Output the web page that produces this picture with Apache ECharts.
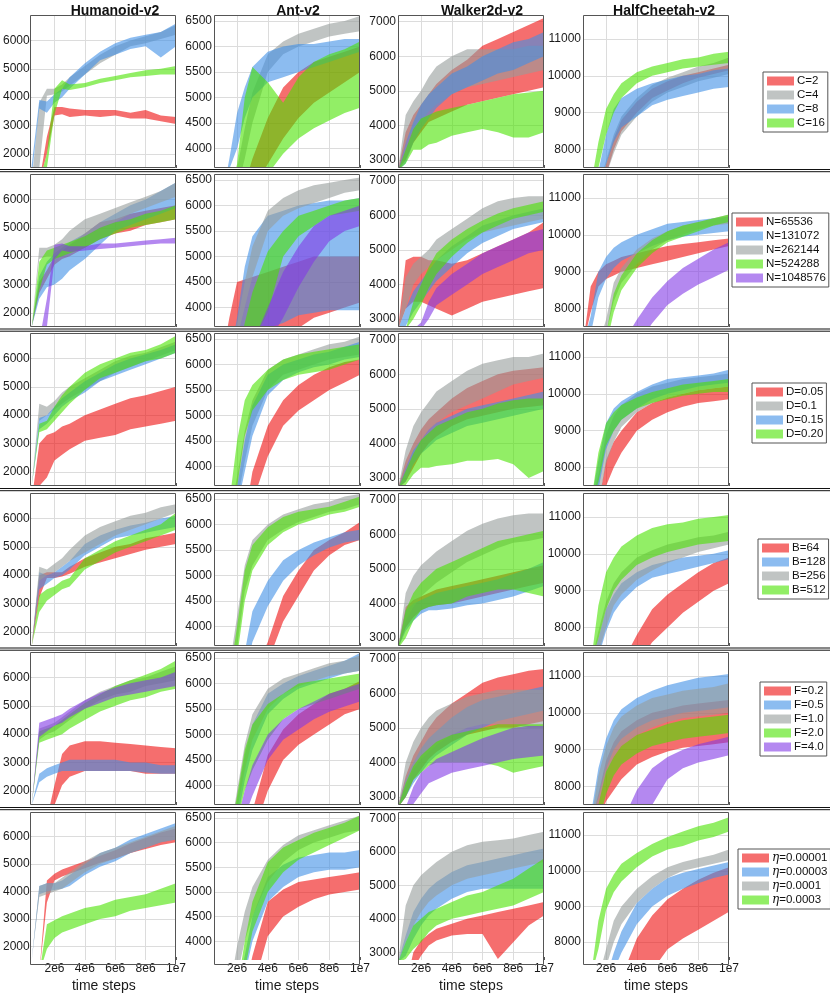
<!DOCTYPE html>
<html>
<head>
<meta charset="utf-8">
<title>PPO hyper-parameter sweep</title>
<script src="https://cdn.jsdelivr.net/npm/echarts/dist/echarts.min.js"></script>
<style>
  html, body { margin: 0; padding: 0; background: #fff; }
  #chart { width: 830px; height: 994px; }
</style>
</head>
<body>
<div id="chart"></div>
<script>
// time steps at which the bands are sampled
const STEPS = [5e5, 1e6, 1.5e6, 2e6, 2.5e6, 3e6, 4e6, 5e6, 6e6, 7e6, 8e6, 9e6, 1e7];

const ENVS = ['Humanoid-v2', 'Ant-v2', 'Walker2d-v2', 'HalfCheetah-v2'];
const Y_RANGES = [[1500, 6900], [3620, 6620], [2770, 7190], [7500, 11650]];
const X_TICKS = [2e6, 4e6, 6e6, 8e6, 1e7];
const X_TICK_LABELS = ['2e6', '4e6', '6e6', '8e6', '1e7'];
const Y_TICKS = [
  [2000, 3000, 4000, 5000, 6000],
  [4000, 4500, 5000, 5500, 6000, 6500],
  [3000, 4000, 5000, 6000, 7000],
  [8000, 9000, 10000, 11000]
];

const ROW_LABELS = [
  ['C=2', 'C=4', 'C=8', 'C=16'],
  ['N=65536', 'N=131072', 'N=262144', 'N=524288', 'N=1048576'],
  ['D=0.05', 'D=0.1', 'D=0.15', 'D=0.20'],
  ['B=64', 'B=128', 'B=256', 'B=512'],
  ['F=0.2', 'F=0.5', 'F=1.0', 'F=2.0', 'F=4.0'],
  ['η=0.00001', 'η=0.00003', 'η=0.0001', 'η=0.0003']
];
const ROW_COLORS = [
  ['red', 'gray', 'blue', 'green'],
  ['red', 'blue', 'gray', 'green', 'purple'],
  ['red', 'gray', 'blue', 'green'],
  ['red', 'blue', 'gray', 'green'],
  ['red', 'blue', 'gray', 'green', 'purple'],
  ['red', 'blue', 'gray', 'green']
];
const COLORS = {
  red: 'rgba(238,13,13,0.6)',
  gray: 'rgba(150,157,155,0.6)',
  blue: 'rgba(63,143,230,0.6)',
  green: 'rgba(73,227,0,0.6)',
  purple: 'rgba(130,57,230,0.6)'
};

// each panel: one [lower, upper] pair per legend entry, same order as ROW_LABELS
// row 1: C
const C_HUMANOID = [
  [[1000,1000,2000,3350,3400,3300,3350,3300,3350,3250,3250,3150,3050], [1000,1000,2600,3650,3650,3600,3550,3550,3550,3450,3550,3350,3300]],
  [[1000,1500,4050,4100,4200,4400,4800,5200,5500,5800,5900,6050,6200], [1000,3800,4300,4300,4450,4700,5100,5500,5800,6000,6150,6300,6550]],
  [[1200,3600,3450,3800,4000,4300,4800,5300,5500,5700,5800,5400,5800], [1600,3900,3850,4100,4300,4700,5200,5600,5900,6100,6200,6300,6600]],
  [[1000,1000,1500,3400,4300,4250,4350,4500,4600,4700,4750,4800,4800], [1000,1000,2000,4300,4600,4450,4500,4650,4750,4850,4950,5000,5100]]
];
const C_ANT = [
  [[3000,3000,3000,3000,3000,3200,3700,4200,4600,4900,5100,5300,5500], [3000,3000,3000,3000,3300,3800,4600,5200,5500,5700,5800,5900,6000]],
  [[3000,3000,3000,3200,3800,4500,5500,5850,6000,6100,6200,6250,6300], [3000,3000,3000,3600,4400,5100,5850,6100,6250,6350,6450,6500,6600]],
  [[3000,3000,3600,4000,4600,5000,5300,5400,5500,5600,5700,5800,5900], [3000,3000,3800,4700,5200,5600,5900,6000,6050,6050,6100,6150,6150]],
  [[3000,3000,3000,3500,3000,3100,3500,3900,4200,4400,4550,4700,4800], [3000,3000,3000,3700,5000,5600,5300,4900,5400,5700,5850,5950,6100]]
];
const C_WALKER = [
  [[2700,3000,3500,3800,4100,4200,4400,4600,4700,4800,4900,5000,5100], [2700,3800,4300,4600,4900,5200,5600,5900,6300,6500,6700,6900,7100]],
  [[2700,3500,3900,4100,4400,4600,4900,5100,5200,5300,5400,5500,5600], [2700,4300,4700,5000,5400,5700,6000,6200,6200,6200,6200,6300,6300]],
  [[2700,2900,3500,3900,4200,4500,4900,5100,5300,5500,5600,5800,6000], [2700,3500,4100,4600,4900,5100,5500,5700,6000,6200,6400,6500,6700]],
  [[2700,2900,3300,3300,3450,3500,3700,3800,3900,3800,3650,3650,3800], [2700,3300,3900,4200,4300,4400,4500,4600,4700,4800,4900,4950,5000]]
];
const C_CHEETAH = [
  [[7000,7000,7000,7300,8000,8500,9000,9400,9600,9800,9950,10050,10150], [7000,7000,7000,7600,8300,8800,9300,9650,9850,10000,10100,10200,10300]],
  [[7000,7000,7000,7300,7900,8400,8900,9300,9550,9700,9850,9950,10050], [7000,7000,7000,7700,8400,8900,9400,9750,9950,10100,10250,10350,10500]],
  [[7000,7000,7000,7600,8200,8600,8900,9200,9350,9450,9550,9650,9700], [7000,7000,7400,8400,9100,9400,9650,9800,9900,10000,10050,10150,10200]],
  [[7000,7000,7500,8400,9000,9400,9800,10000,10100,10200,10250,10300,10350], [7000,7000,8200,9100,9500,9800,10100,10250,10350,10450,10500,10600,10650]]
];

// row 2: N
const N_HUMANOID = [
  [[1500,2700,3200,3700,3900,4000,4300,4600,4800,4900,5100,5200,5300], [1500,3100,3500,4000,4200,4400,4800,5200,5300,5500,5600,5700,5800]],
  [[1500,2500,2900,3000,3200,3500,3900,4400,4900,5100,5300,5500,5700], [1500,3300,3800,4100,4300,4500,4800,5200,5500,5800,6000,6300,6600]],
  [[1500,3900,4000,4000,4200,4400,4700,5000,5200,5500,5700,5900,6100], [1500,4300,4300,4400,4600,4900,5300,5500,5700,5900,6100,6300,6600]],
  [[1500,2800,3700,3900,4000,4100,4300,4600,4800,5000,5100,5200,5300], [1500,3800,4200,4300,4400,4500,4700,5000,5200,5300,5500,5600,5800]],
  [[1000,1000,1500,3900,4200,4150,4200,4250,4300,4350,4400,4450,4450], [1000,1000,2500,4400,4450,4350,4350,4450,4450,4500,4550,4600,4650]]
];
const N_ANT = [
  [[3000,3000,3300,3500,3500,3500,3500,3500,3600,3800,3900,4000,4100], [3000,3000,3800,4500,4550,4600,4700,4800,4900,5000,5000,5000,5000]],
  [[3000,3000,3000,3400,3550,3600,3600,3700,3850,3900,3950,3950,3950], [3000,3000,3000,3800,4800,5400,5800,5900,6000,6050,6100,6100,6150]],
  [[3000,3000,3000,3400,4000,4600,5500,5800,5950,6050,6150,6250,6300], [3000,3000,3000,3700,4500,5200,5900,6150,6300,6400,6450,6500,6550]],
  [[3000,3000,3000,3000,3200,3300,3900,5000,5400,5600,5800,5850,5900], [3000,3000,3000,3000,3700,4300,5100,5500,5800,5900,6000,6100,6150]],
  [[3000,3000,3000,3000,3000,3000,3300,3800,4400,4900,5300,5500,5600], [3000,3000,3000,3000,3000,3300,4000,4700,5200,5600,5800,5900,6000]]
];
const N_WALKER = [
  [[2700,3300,3500,3500,3400,3300,3100,3300,3500,3600,3700,3800,3900], [2700,4700,4800,4800,4700,4700,4600,4700,4900,5100,5300,5500,5800]],
  [[2700,2800,3200,3500,3800,4100,4500,4900,5200,5400,5600,5700,5800], [2700,3300,3800,4100,4400,4700,5100,5400,5700,5850,6000,6100,6200]],
  [[2700,3300,4000,4300,4500,4700,5000,5300,5500,5600,5700,5800,5900], [2700,4200,4600,4800,5000,5300,5600,5900,6200,6400,6500,6550,6550]],
  [[2700,2700,3000,3400,3900,4300,4800,5200,5500,5700,5900,6000,6100], [2700,2700,3500,4000,4500,4900,5300,5600,5850,6050,6200,6300,6400]],
  [[2700,2700,2700,2700,3000,3400,3700,4000,4300,4500,4700,4900,5000], [2700,2700,2700,2900,3500,3900,4300,4600,4900,5100,5300,5500,5600]]
];
const N_CHEETAH = [
  [[7000,7900,8600,8800,8900,9000,9100,9200,9300,9400,9500,9600,9700], [7000,8600,9000,9200,9300,9400,9500,9600,9700,9750,9800,9850,9900]],
  [[7000,7300,8300,8800,9100,9300,9500,9700,9850,9950,10000,10050,10100], [7000,7800,9000,9400,9650,9800,10000,10150,10300,10350,10400,10450,10500]],
  [[7000,7000,7000,7300,8200,8700,9200,9600,9850,10000,10150,10250,10300], [7000,7000,7000,7700,8700,9100,9600,9900,10100,10250,10350,10450,10550]],
  [[7000,7000,7000,7000,7900,8500,9100,9500,9800,9950,10100,10250,10350], [7000,7000,7000,7300,8400,8900,9500,9850,10100,10250,10350,10450,10550]],
  [[7000,7000,7000,7000,7000,7000,7000,7600,8100,8400,8650,8850,9050], [7000,7000,7000,7000,7000,7000,7700,8300,8750,9100,9350,9600,9800]]
];

// row 3: D
const D_HUMANOID = [
  [[1000,1500,1800,2400,2600,2800,3100,3200,3300,3500,3600,3700,3800], [1000,3000,3300,3400,3600,3700,4000,4200,4400,4600,4700,4850,5000]],
  [[1500,3800,4000,4200,4400,4600,4900,5200,5500,5700,5900,6100,6300], [1500,4400,4300,4500,4800,5000,5300,5600,5900,6100,6200,6400,6600]],
  [[1500,3500,3700,4000,4300,4500,4800,5200,5400,5600,5800,6000,6200], [1500,3900,4000,4300,4600,4800,5200,5500,5800,6000,6150,6300,6500]],
  [[1500,3400,3500,3800,4100,4400,4900,5300,5500,5700,5900,6000,6200], [1500,3700,3800,4300,4700,5000,5500,5800,6000,6200,6300,6500,6800]]
];
const D_ANT = [
  [[3000,3000,3000,3000,3000,3300,4200,4800,5100,5300,5500,5650,5800], [3000,3000,3000,3000,3000,3900,4800,5300,5600,5800,5950,6050,6100]],
  [[3000,3000,3000,3300,4100,4800,5500,5800,5900,6000,6100,6150,6200], [3000,3000,3000,3800,4700,5300,5900,6100,6200,6300,6400,6450,6550]],
  [[3000,3000,3000,3200,3900,4600,5400,5700,5850,5950,6000,6100,6150], [3000,3000,3000,3600,4500,5200,5800,6000,6100,6200,6250,6350,6450]],
  [[3000,3000,3000,3600,4600,5100,5500,5700,5800,5850,5900,6000,6100], [3000,3000,3300,4500,5300,5600,5900,6100,6200,6250,6300,6350,6400]]
];
const D_WALKER = [
  [[2700,2900,3300,3700,4000,4200,4500,4700,4800,4900,5000,5050,5100], [2700,3500,4000,4400,4700,4900,5300,5600,5800,6000,6100,6150,6200]],
  [[2700,3300,3700,4100,4400,4600,4900,5100,5300,5500,5700,5800,5900], [2700,3800,4500,4900,5200,5500,5800,6100,6300,6400,6500,6500,6600]],
  [[2700,2900,3400,3700,3900,4100,4300,4500,4600,4700,4800,4900,5000], [2700,3300,3800,4100,4400,4600,4800,5000,5100,5200,5300,5400,5500]],
  [[2700,2800,3100,3300,3300,3350,3400,3500,3500,3550,3400,3000,3200], [2700,3200,3700,4100,4300,4500,4700,4900,5000,5150,5250,5300,5300]]
];
const D_CHEETAH = [
  [[7000,7000,7000,7500,8000,8400,9000,9300,9500,9650,9750,9800,9850], [7000,7000,7000,8200,8700,9000,9500,9750,9900,10000,10100,10150,10200]],
  [[7000,7000,7000,8100,8700,9100,9500,9750,9900,10000,10100,10150,10200], [7000,7000,7800,8900,9400,9700,10000,10200,10300,10400,10450,10500,10550]],
  [[7000,7000,7400,8500,9000,9300,9600,9850,10000,10100,10200,10250,10300], [7000,7000,8200,9200,9600,9800,10050,10250,10400,10450,10500,10550,10650]],
  [[7000,7000,7600,8600,9000,9300,9600,9750,9850,9950,10000,10050,10050], [7000,7000,8400,9200,9500,9700,9900,10050,10150,10250,10300,10350,10400]]
];

// row 4: B
const B_HUMANOID = [
  [[1500,3200,3900,3900,3950,4050,4300,4450,4600,4750,4900,5000,5100], [1500,4000,4100,4100,4100,4300,4600,4800,5000,5100,5300,5400,5500]],
  [[1500,3500,3700,3900,4000,4200,4700,5000,5300,5400,5500,5600,5700], [1500,4100,4000,4100,4300,4500,5100,5400,5600,5750,5850,6000,6100]],
  [[1500,3800,4000,4100,4300,4500,4800,5100,5400,5600,5800,6000,6200], [1500,4300,4200,4400,4600,4900,5400,5700,5900,6100,6200,6400,6500]],
  [[1500,2700,3100,3300,3500,3600,4200,4500,4800,5000,5200,5400,5600], [1500,3300,3500,3600,3800,3900,4600,4900,5200,5400,5600,5800,6200]]
];
const B_ANT = [
  [[3000,3000,3000,3000,3000,3000,3300,4100,4600,5100,5400,5600,5700], [3000,3000,3000,3000,3000,3000,3700,4600,5100,5500,5700,5850,6050]],
  [[3000,3000,3000,3000,3000,3700,4400,4900,5200,5400,5550,5650,5700], [3000,3000,3000,3000,3500,4300,4900,5300,5500,5650,5750,5850,5900]],
  [[3000,3000,3000,3600,4700,5200,5700,5900,6050,6150,6250,6300,6400], [3000,3000,3200,4200,5200,5700,6000,6200,6300,6400,6450,6550,6600]],
  [[3000,3000,3000,3400,4500,5100,5600,5850,6000,6100,6200,6250,6350], [3000,3000,3000,4000,5100,5600,5950,6150,6250,6300,6350,6450,6550]]
];
const B_WALKER = [
  [[2700,3300,3600,3800,3900,3950,4000,4100,4200,4300,4400,4500,4600], [2700,3900,4100,4200,4300,4400,4500,4600,4700,4800,4900,5000,5100]],
  [[2700,3200,3500,3700,3800,3800,3850,3950,4000,4100,4200,4350,4500], [2700,3800,4000,4100,4200,4300,4400,4500,4600,4700,4850,5000,5200]],
  [[2700,3500,3900,4200,4400,4600,4900,5200,5400,5600,5750,5800,5900], [2700,4300,4800,5100,5300,5500,5800,6100,6300,6450,6550,6600,6600]],
  [[2700,3000,3500,3800,3900,3950,4000,4200,4300,4400,4400,4300,4200], [2700,3800,4300,4600,4800,5000,5200,5400,5600,5800,5900,6000,6100]]
];
const B_CHEETAH = [
  [[7000,7000,7000,7000,7000,7000,7000,7600,8000,8400,8700,9000,9200], [7000,7000,7000,7000,7000,7000,7800,8500,8900,9200,9500,9750,9900]],
  [[7000,7000,7200,7900,8400,8700,9100,9350,9450,9550,9650,9750,9850], [7000,7000,7700,8500,8900,9200,9500,9700,9800,9900,9950,10000,10100]],
  [[7000,7000,7300,8000,8600,8900,9300,9550,9750,9900,10050,10150,10250], [7000,7000,7900,8700,9200,9500,9900,10100,10250,10350,10450,10500,10600]],
  [[7000,7000,7700,8500,9000,9300,9700,9900,10050,10150,10250,10300,10350], [7000,7000,8600,9500,9900,10200,10500,10700,10800,10850,10950,11000,11050]]
];

// row 5: F
const F_HUMANOID = [
  [[1000,1000,1000,1500,2200,2500,2700,2700,2700,2700,2600,2600,2600], [1000,1000,1000,2200,3300,3600,3750,3750,3700,3650,3600,3550,3500]],
  [[1500,2300,2500,2600,2700,2700,2700,2700,2700,2700,2650,2600,2600], [1500,2600,2800,2900,3000,3100,3100,3100,3100,3000,3000,2900,2900]],
  [[1500,3800,4000,4100,4300,4500,4900,5200,5400,5500,5700,5800,5900], [1500,4200,4300,4400,4600,4800,5200,5500,5700,5900,6000,6200,6400]],
  [[1500,3700,3800,3900,4000,4200,4500,4800,5000,5200,5300,5500,5600], [1500,4100,4200,4300,4500,4700,5100,5400,5700,5900,6100,6300,6600]],
  [[1500,3900,4100,4300,4400,4600,4900,5100,5300,5400,5500,5600,5700], [1500,4400,4500,4600,4700,4900,5200,5450,5650,5800,5900,6000,6200]]
];
const F_ANT = [
  [[3000,3000,3000,3000,3000,3000,3900,4500,4800,5000,5200,5400,5500], [3000,3000,3000,3000,3000,3500,4600,5100,5400,5600,5800,5900,6050]],
  [[3000,3000,3000,3300,4100,4700,5400,5700,5900,6000,6100,6200,6250], [3000,3000,3000,3700,4600,5200,5800,6000,6150,6250,6350,6450,6600]],
  [[3000,3000,3000,3500,4300,4900,5500,5800,5950,6050,6150,6200,6250], [3000,3000,3000,3900,4800,5400,5900,6100,6200,6300,6400,6450,6550]],
  [[3000,3000,3000,3300,3900,4300,4900,5300,5500,5600,5700,5800,5900], [3000,3000,3000,3800,4700,5200,5600,5800,6000,6050,6100,6150,6200]],
  [[3000,3000,3000,3000,3400,3800,4500,4900,5100,5300,5450,5550,5650], [3000,3000,3000,3300,3900,4400,5000,5300,5500,5650,5800,5900,6000]]
];
const F_WALKER = [
  [[2700,3000,3500,3800,4100,4300,4600,4800,4900,5000,5000,5100,5200], [2700,3600,4200,4600,5000,5300,5700,6000,6300,6450,6550,6650,6700]],
  [[2700,3000,3400,3700,4000,4200,4500,4800,5000,5200,5300,5400,5500], [2700,3500,4000,4400,4700,4900,5300,5600,5800,5900,6000,6100,6200]],
  [[2700,3300,3800,4100,4300,4500,4800,5000,5100,5100,5100,5000,5000], [2700,4000,4600,5000,5300,5500,5700,5900,6000,6100,6100,6100,6100]],
  [[2700,3000,3500,3700,3900,4000,4000,4000,4000,3900,3700,3800,3900], [2700,3400,3900,4200,4400,4600,4800,4900,5000,5100,5100,5100,5100]],
  [[2700,2700,2800,3100,3400,3500,3700,3800,3900,4000,4100,4150,4200], [2700,2700,3300,3700,3900,4100,4300,4500,4700,4850,5000,5050,5050]]
];
const F_CHEETAH = [
  [[7000,7000,7000,7600,7900,8200,8600,8800,8950,9050,9100,9150,9200], [7000,7000,7800,8700,9200,9500,9800,10000,10100,10200,10250,10300,10350]],
  [[7000,7000,7700,8500,9000,9300,9600,9800,9900,10000,10050,10100,10150], [7000,7200,8500,9300,9800,10100,10400,10600,10750,10850,10950,11000,11050]],
  [[7000,7000,7500,8300,8800,9100,9400,9600,9750,9850,9900,9950,10000], [7000,7000,8300,9100,9600,9900,10200,10400,10500,10600,10650,10700,10800]],
  [[7000,7000,7000,7800,8300,8600,8900,9100,9200,9300,9350,9400,9450], [7000,7000,7500,8400,8800,9100,9400,9550,9700,9800,9850,9900,9950]],
  [[7000,7000,7000,7000,7000,7000,7000,7500,8200,8500,8650,8750,8850], [7000,7000,7000,7000,7000,7000,7900,8500,8800,9000,9150,9250,9350]]
];

// row 6: learning rate
const E_HUMANOID = [
  [[1000,1000,3600,4400,4550,4650,4850,5050,5200,5400,5550,5700,5800], [1000,1000,4400,4650,4800,4900,5100,5300,5500,5750,5950,6150,6300]],
  [[1500,3900,4000,4050,4100,4200,4600,4900,5100,5400,5600,5800,5900], [1500,4200,4300,4300,4400,4600,5000,5400,5600,5900,6100,6300,6500]],
  [[1500,3800,3900,4000,4100,4300,4700,5000,5200,5400,5600,5800,5900], [1500,4200,4300,4300,4500,4700,5100,5400,5600,5800,6000,6200,6400]],
  [[1000,1000,1900,2300,2500,2600,2800,3000,3100,3300,3400,3500,3600], [1000,1000,2800,2950,3100,3200,3400,3500,3700,3800,3900,4100,4300]]
];
const E_ANT = [
  [[3000,3000,3000,3000,3000,3000,4100,4500,4700,4850,4950,5000,5050], [3000,3000,3000,3000,3000,3700,4800,5050,5200,5250,5300,5350,5400]],
  [[3000,3000,3000,3000,3300,4000,4800,5100,5300,5400,5450,5450,5500], [3000,3000,3000,3000,3700,4500,5300,5550,5700,5750,5800,5800,5850]],
  [[3000,3000,3000,3300,4000,4500,5200,5600,5850,6000,6100,6200,6250], [3000,3000,3000,3900,4600,5100,5650,5950,6150,6250,6350,6450,6550]],
  [[3000,3000,3000,3000,3400,4200,5000,5400,5650,5800,5950,6100,6250], [3000,3000,3000,3000,4000,4800,5600,5900,6050,6200,6300,6400,6550]]
];
const E_WALKER = [
  [[2000,2000,2500,2900,3200,3350,3500,3550,3550,2800,3300,3800,4100], [2000,2000,3000,3350,3550,3700,3850,4000,4100,4200,4300,4400,4500]],
  [[2700,2900,3400,3800,4100,4300,4600,4800,4900,4900,4900,4900,4900], [2700,3500,4200,4600,4900,5100,5400,5600,5700,5800,5900,6000,6100]],
  [[2700,3300,3800,4200,4500,4700,5000,5200,5300,5400,5500,5600,5700], [2700,4400,5000,5300,5500,5700,6000,6200,6300,6350,6400,6500,6600]],
  [[2700,2800,3100,3300,3600,3800,4000,4100,4200,4300,4400,4600,4800], [2700,3300,3800,4000,4200,4300,4500,4700,4800,5000,5200,5500,5800]]
];
const E_CHEETAH = [
  [[7000,7000,7000,7000,7000,7000,7000,7200,7800,8100,8350,8600,8850], [7000,7000,7000,7000,7000,7000,8100,8750,9200,9500,9750,9950,10100]],
  [[7000,7000,7000,7000,7200,7700,8500,9000,9300,9500,9650,9800,9900], [7000,7000,7000,7000,7700,8300,9100,9500,9800,9950,10050,10150,10250]],
  [[7000,7000,7000,7300,8000,8500,9100,9500,9800,10000,10100,10200,10300], [7000,7000,7000,7800,8600,9000,9500,9850,10100,10250,10350,10450,10600]],
  [[7000,7000,7800,8900,9400,9700,10100,10400,10600,10700,10850,10950,11100], [7000,7000,8600,9500,9900,10200,10500,10750,10950,11100,11250,11350,11500]]
];

const PANELS = [
  [C_HUMANOID, C_ANT, C_WALKER, C_CHEETAH],
  [N_HUMANOID, N_ANT, N_WALKER, N_CHEETAH],
  [D_HUMANOID, D_ANT, D_WALKER, D_CHEETAH],
  [B_HUMANOID, B_ANT, B_WALKER, B_CHEETAH],
  [F_HUMANOID, F_ANT, F_WALKER, F_CHEETAH],
  [E_HUMANOID, E_ANT, E_WALKER, E_CHEETAH]
];

// layout (px)
const COL_LEFT = [30, 214, 398, 583];
const ROW_TOP = [15, 174, 333, 493, 652, 812];
const PANEL_W = 146, PANEL_H = 153;
const SEP_Y = [170.5, 330, 489.5, 649, 808.5];
const LEGEND_POS = [[763, 72], [732, 213], [752, 383], [758, 539], [760, 682], [738, 849]];
const TITLE_X = [110, 293, 477, 659];

const FONT = '"Liberation Sans", Arial, Helvetica, sans-serif';
const chart = echarts.init(document.getElementById('chart'), null, { renderer: 'canvas' });

const grids = [], xAxes = [], yAxes = [], series = [], graphics = [];

// band polygon: lower edge forward, upper edge back, through the axis scales
function renderBand(params, api) {
  if (params.dataIndexInside !== 0) return;
  const n = params.dataInsideLength;
  const pts = [];
  for (let j = 0; j < n; j++) pts.push(api.coord([api.value(0, j), api.value(1, j)]));
  for (let j = n - 1; j >= 0; j--) pts.push(api.coord([api.value(0, j), api.value(2, j)]));
  return { type: 'polygon', shape: { points: pts }, style: { fill: api.visual('color') } };
}

// light grid lines at the tick positions, under the bands
function gridLines(c) {
  return {
    silent: true, z: 1, symbol: ['none', 'none'], label: { show: false },
    lineStyle: { color: '#dcdcdc', type: 'solid', width: 1 },
    emphasis: { disabled: true },
    data: X_TICKS.filter(v => v < 1e7).map(v => ({ xAxis: v }))
      .concat(Y_TICKS[c].map(v => ({ yAxis: v })))
  };
}

PANELS.forEach((row, r) => {
  row.forEach((bands, c) => {
    const gi = grids.length;
    const last = r === PANELS.length - 1;
    grids.push({ left: COL_LEFT[c], top: ROW_TOP[r], width: PANEL_W, height: PANEL_H, show: false });
    xAxes.push({
      gridIndex: gi, type: 'value', min: 5e5, max: 1e7,
      axisLine: { show: false },
      axisTick: { show: true, inside: true, length: 3, customValues: X_TICKS, lineStyle: { color: '#555' } },
      splitLine: { show: false },
      axisLabel: {
        show: last, customValues: X_TICKS, margin: 3, fontSize: 12, color: '#1a1a1a', fontFamily: FONT,
        formatter: v => X_TICK_LABELS[X_TICKS.indexOf(v)] || ''
      },
      name: last ? 'time steps' : '', nameLocation: 'middle', nameGap: 19,
      nameTextStyle: { fontSize: 14, color: '#1a1a1a', fontFamily: FONT }
    });
    yAxes.push({
      gridIndex: gi, type: 'value', min: Y_RANGES[c][0], max: Y_RANGES[c][1],
      axisLine: { show: false },
      axisTick: { show: true, inside: true, length: 3, customValues: Y_TICKS[c], lineStyle: { color: '#555' } },
      splitLine: { show: false },
      axisLabel: {
        customValues: Y_TICKS[c], margin: 2, fontSize: 12, color: '#1a1a1a', fontFamily: FONT,
        formatter: v => String(v)
      }
    });
    bands.forEach((band, k) => {
      const color = COLORS[ROW_COLORS[r][k]];
      const s = {
        type: 'custom', name: ROW_LABELS[r][k], xAxisIndex: gi, yAxisIndex: gi,
        clip: true, silent: true, z: 2, itemStyle: { color: color },
        encode: { x: 0, y: [1, 2] },
        data: STEPS.map((x, i) => [x, band[0][i], band[1][i]]),
        renderItem: renderBand
      };
      if (k === 0) s.markLine = gridLines(c);
      series.push(s);
    });
    graphics.push({
      type: 'rect', z: 100, silent: true,
      shape: { x: COL_LEFT[c] + 0.5, y: ROW_TOP[r] + 0.5, width: PANEL_W - 1, height: PANEL_H - 1 },
      style: { fill: 'none', stroke: '#555', lineWidth: 1 }
    });
  });
});

SEP_Y.forEach(y => {
  [y - 1, y + 1.2].forEach(yy => graphics.push({
    type: 'line', z: 100, silent: true,
    shape: { x1: 0, y1: yy, x2: 830, y2: yy },
    style: { stroke: '#111', lineWidth: 1 }
  }));
});

const titles = ENVS.map((name, c) => ({
  text: name, left: TITLE_X[c], top: -1, textAlign: 'center',
  textStyle: { fontSize: 14, fontWeight: 'bold', color: '#111', fontFamily: FONT }
}));

const legends = ROW_LABELS.map((labels, r) => ({
  orient: 'vertical', left: LEGEND_POS[r][0], top: LEGEND_POS[r][1],
  data: labels, icon: 'rect', itemWidth: 27, itemHeight: 9, itemGap: 2,
  padding: [3, 3, 3, 4], borderColor: '#555', borderWidth: 1, backgroundColor: '#fff',
  selectedMode: false, itemStyle: { borderWidth: 0 },
  formatter: name => name.charAt(0) === 'η' ? '{g|η}' + name.slice(1) : name,
  textStyle: {
    fontSize: 11.5, lineHeight: 12, color: '#111', fontFamily: FONT, padding: [0, 0, 0, -2],
    rich: { g: { fontSize: 12, fontStyle: 'italic', fontFamily: '"DejaVu Serif", serif', color: '#111' } }
  }
}));

chart.setOption({
  animation: false,
  backgroundColor: '#fff',
  textStyle: { fontFamily: FONT },
  title: titles,
  legend: legends,
  grid: grids,
  xAxis: xAxes,
  yAxis: yAxes,
  series: series,
  graphic: graphics
});
</script>
</body>
</html>
